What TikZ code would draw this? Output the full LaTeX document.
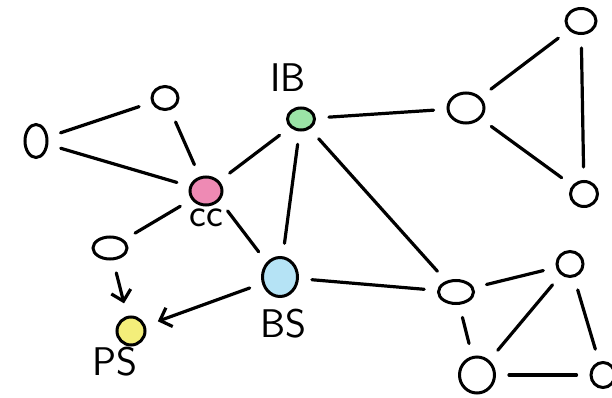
\documentclass[tikz,border=0pt]{standalone}
\usetikzlibrary{shapes.geometric,arrows.meta}
\definecolor{ccpink}{RGB}{238,138,180}
\definecolor{ibgreen}{RGB}{155,227,166}
\definecolor{bsblue}{RGB}{181,227,245}
\definecolor{psyellow}{RGB}{243,238,122}
\begin{document}
\begin{tikzpicture}[x=1pt, y=-1pt, line width=3.2pt, line cap=round,
    vertex/.style={ellipse, draw, line width=3pt, inner sep=0pt},
    link/.style={shorten <=13pt, shorten >=13pt},
    arr/.style={link, -{Straight Barb[length=10pt,width=20pt]}},
    lbl/.style={font=\sffamily\fontsize{40}{44}\selectfont}]
                \useasboundingbox (0,0) rectangle (612,398);

                % Noeuds de gauche
                \node[vertex, minimum width=22pt, minimum height=33pt] (a) at (36,141) {};
                \node[vertex, minimum width=26pt, minimum height=23pt] (b) at (165,98) {};
                \node[vertex, fill=ccpink, minimum width=32pt, minimum height=28pt] (cc) at (206,191) {};
                \node[vertex, fill=ibgreen, minimum width=27pt, minimum height=22pt] (ib) at (301,119) {};
                \node[vertex, minimum width=34pt, minimum height=22pt] (d) at (110,248) {};
                \node[vertex, fill=psyellow, minimum width=28pt, minimum height=28pt] (ps) at (131,331) {};
                \node[vertex, fill=bsblue, minimum width=35pt, minimum height=39pt] (bs) at (280,277) {};

                % Noeuds de droite
                \node[vertex, minimum width=36pt, minimum height=30pt] (e) at (466,108) {};
                \node[vertex, minimum width=30pt, minimum height=25pt] (f) at (581,21) {};
                \node[vertex, minimum width=27pt, minimum height=25pt] (g) at (584,194) {};
                \node[vertex, minimum width=35pt, minimum height=23pt] (h) at (456,292) {};
                \node[vertex, minimum width=26pt, minimum height=25pt] (i) at (570,264) {};
                \node[vertex, minimum width=35pt, minimum height=36pt] (j) at (477,375) {};
                \node[vertex, minimum width=24pt, minimum height=25pt] (k) at (603,375) {};

                % Etiquettes
                \node[lbl] (lib) at (288,78) {IB};
                \node[lbl] (lcc) at (206,218) {cc};
                \node[lbl] (lbs) at (283,324) {BS};
                \node[lbl] (lps) at (115,362) {PS};

                % Liens
                \foreach \u/\v in {a/b, a/cc, b/cc, cc/ib, cc/d, ib/bs, ib/h, ib/e,
                                   e/f, f/g, e/g, bs/h, h/i, h/j, i/j, i/k, j/k} {
                    \draw[link] (\u) -- (\v);
                }
                \draw[link] (cc.-35) -- (bs.north west);

                % Fleches vers PS
                \draw[arr] (d) -- (ps);
                \draw[arr] (bs) -- (ps);

            \end{tikzpicture}
\end{document}
